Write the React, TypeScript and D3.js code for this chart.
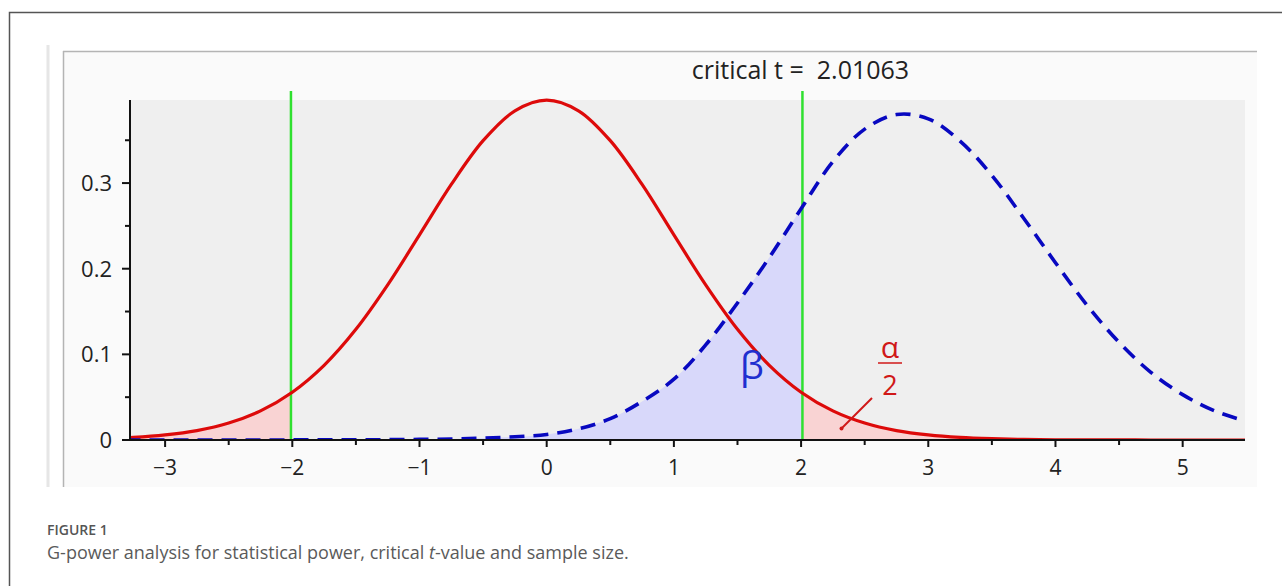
import React from "react";
import * as d3 from "d3";

// ---- data ----
const tGrid = [
  -3.5, -3.25, -3, -2.75, -2.5, -2.25, -2, -1.75, -1.5, -1.25, -1, -0.75, -0.5, -0.25,
  0, 0.25, 0.5, 0.75, 1, 1.25, 1.5, 1.75, 2, 2.25, 2.5, 2.75, 3, 3.25, 3.5, 3.75,
  4, 4.25, 4.5, 4.75, 5, 5.25, 5.5,
];
// H0: central t distribution (red, solid)
const centralDensity = [
  0.0015, 0.003, 0.0059, 0.011, 0.0198, 0.034, 0.0558, 0.0872, 0.1292, 0.1811, 0.2395, 0.2984, 0.3495, 0.3844,
  0.3969, 0.3844, 0.3495, 0.2984, 0.2395, 0.1811, 0.1292, 0.0872, 0.0558, 0.034, 0.0198, 0.011, 0.0059, 0.003, 0.0015, 0.0007,
  0.0003, 0.0002, 0.0001, 0.0, 0.0, 0.0, 0.0,
];
// H1: noncentral t distribution (blue, dashed)
const noncentralDensity = [
  0, 0, 0, 0, 0, 0, 0.0001, 0.0001, 0.0002, 0.0004, 0.0007, 0.0012, 0.0022, 0.0038,
  0.0065, 0.013, 0.025, 0.045, 0.071, 0.111, 0.16, 0.213, 0.27, 0.325, 0.363, 0.38, 0.375, 0.349, 0.309, 0.259,
  0.207, 0.157, 0.114, 0.079, 0.053, 0.034, 0.022,
];
const criticalT = 2.01063;
const xTicks = [-3, -2, -1, 0, 1, 2, 3, 4, 5];
const xMinorTicks = [-2.5, -1.5, -0.5, 0.5, 1.5, 2.5, 3.5, 4.5];
const yTicks = [0, 0.1, 0.2, 0.3];
const yMinorTicks = [0.05, 0.15, 0.25, 0.35];
const xDomain = [-3.276, 5.49];
const yDomain = [0, 0.397];

const W = 1282;
const H = 586;
const FONT = "'Open Sans', 'Noto Sans', sans-serif";

export default function App() {
  const x = d3.scaleLinear().domain(xDomain).range([130, 1245]);
  const y = d3.scaleLinear().domain(yDomain).range([440, 100]);

  const central = tGrid.map((t, i) => ({ t, d: centralDensity[i] }));
  const noncentral = tGrid.map((t, i) => ({ t, d: noncentralDensity[i] }));

  const curve = d3.curveCatmullRom.alpha(0.5);
  const line = d3
    .line<{ t: number; d: number }>()
    .x((p) => x(p.t))
    .y((p) => y(p.d))
    .curve(curve);
  const area = d3
    .area<{ t: number; d: number }>()
    .x((p) => x(p.t))
    .y0(y(0))
    .y1((p) => y(p.d))
    .curve(curve);

  const [x0, x1] = x.range();
  const [yb, yt] = y.range();
  const xcL = x(-criticalT);
  const xcR = x(criticalT);
  const fmtX = (v: number) => (v < 0 ? "\u2212" + Math.abs(v) : String(v));

  return (
    <div style={{ position: "absolute", left: 0, top: 0 }}>
      <svg width={W} height={H} style={{ display: "block" }}>
        <defs>
          <clipPath id="plot">
            <rect x={x0} y={0} width={x1 - x0} height={yb} />
          </clipPath>
          <clipPath id="tails">
            <rect x={x0} y={0} width={xcL - x0} height={yb} />
            <rect x={xcR} y={0} width={x1 - xcR} height={yb} />
          </clipPath>
          <clipPath id="beta">
            <rect x={x0} y={0} width={xcR - x0} height={yb} />
          </clipPath>
        </defs>
        <rect x={0} y={0} width={W} height={H} fill="#ffffff" />
        {/* outer figure frame */}
        <rect x={9.5} y={12.5} width={W + 20} height={H + 20} fill="none" stroke="#555" strokeWidth={1.5} />
        {/* image backdrop */}
        <line x1={48} x2={48} y1={45} y2={487} stroke="#e6e6e6" strokeWidth={3} />
        <rect x={63} y={51} width={1194} height={436} fill="#fafafa" />
        <line x1={63} x2={1257} y1={51.5} y2={51.5} stroke="#b4b4b4" strokeWidth={1.5} />
        <line x1={63.5} x2={63.5} y1={51} y2={487} stroke="#b4b4b4" strokeWidth={1.5} />
        {/* plot background */}
        <rect x={x0} y={yt} width={x1 - x0} height={yb - yt} fill="#efefef" />

        {/* shaded areas */}
        <g clipPath="url(#plot)">
          <path d={area(noncentral) || ""} fill="#d8d8fa" clipPath="url(#beta)" />
          <path d={area(central) || ""} fill="#f9d3d3" clipPath="url(#tails)" />
        </g>

        {/* critical lines */}
        {[-criticalT, criticalT].map((c) => (
          <line key={c} x1={x(c)} x2={x(c)} y1={y(0.4075)} y2={y(0)} stroke="#2fe02f" strokeWidth={2.5} />
        ))}

        {/* curves */}
        <g clipPath="url(#plot)">
          <path d={line(central) || ""} fill="none" stroke="#dd0a0a" strokeWidth={3.2} />
          <path
            d={line(noncentral) || ""}
            fill="none"
            stroke="#0808c0"
            strokeWidth={3.6}
            strokeDasharray="15 9"
          />
        </g>

        {/* axes */}
        <line x1={x0 - 8} x2={x1} y1={y(0)} y2={y(0)} stroke="#111" strokeWidth={2} />
        <line x1={x0} x2={x0} y1={yt} y2={y(0)} stroke="#111" strokeWidth={2} />
        {xTicks.map((v) => (
          <g key={"xt" + v}>
            <line x1={x(v)} x2={x(v)} y1={y(0)} y2={y(0) + 7} stroke="#111" strokeWidth={2} />
            <text x={x(v)} y={y(0) + 35} textAnchor="middle" fontFamily={FONT} fontSize={21} fill="#222">
              {fmtX(v)}
            </text>
          </g>
        ))}
        {xMinorTicks.map((v) => (
          <line key={"xm" + v} x1={x(v)} x2={x(v)} y1={y(0)} y2={y(0) + 5} stroke="#111" strokeWidth={2} />
        ))}
        {yTicks.map((v) => (
          <g key={"yt" + v}>
            <line x1={x0 - 8} x2={x0} y1={y(v)} y2={y(v)} stroke="#111" strokeWidth={2} />
            <text x={x0 - 18} y={y(v)} dy="0.36em" textAnchor="end" fontFamily={FONT} fontSize={22} fill="#222">
              {String(v)}
            </text>
          </g>
        ))}
        {yMinorTicks.map((v) => (
          <line key={"ym" + v} x1={x0 - 5} x2={x0} y1={y(v)} y2={y(v)} stroke="#111" strokeWidth={2} />
        ))}

        {/* annotations */}
        <text x={xcR - 2} y={79} textAnchor="middle" fontFamily={FONT} fontSize={25} fill="#222" xmlSpace="preserve">
          critical t =  2.01063
        </text>
        <text x={752} y={379} textAnchor="middle" fontFamily={FONT} fontSize={38} fill="#1f2fd0">
          β
        </text>
        <text x={890} y={358} textAnchor="middle" fontFamily={FONT} fontSize={30} fill="#d01818">
          α
        </text>
        <line x1={878} x2={902} y1={363} y2={363} stroke="#d01818" strokeWidth={1.5} />
        <text x={890} y={395} textAnchor="middle" fontFamily={FONT} fontSize={27} fill="#d01818">
          2
        </text>
        <line x1={841.5} y1={428.5} x2={872} y2={398} stroke="#d01818" strokeWidth={2} />
        <circle cx={841.5} cy={428.5} r={2} fill="#d01818" />

        {/* caption */}
        <text x={47} y={535} fontFamily={FONT} fontSize={14} fontWeight={600} fill="#555">
          FIGURE 1
        </text>
        <text x={47} y={559} fontFamily={FONT} fontSize={18} fill="#5a5a5a">
          G-power analysis for statistical power, critical <tspan fontStyle="italic">t</tspan>-value and sample size.
        </text>
      </svg>
    </div>
  );
}
